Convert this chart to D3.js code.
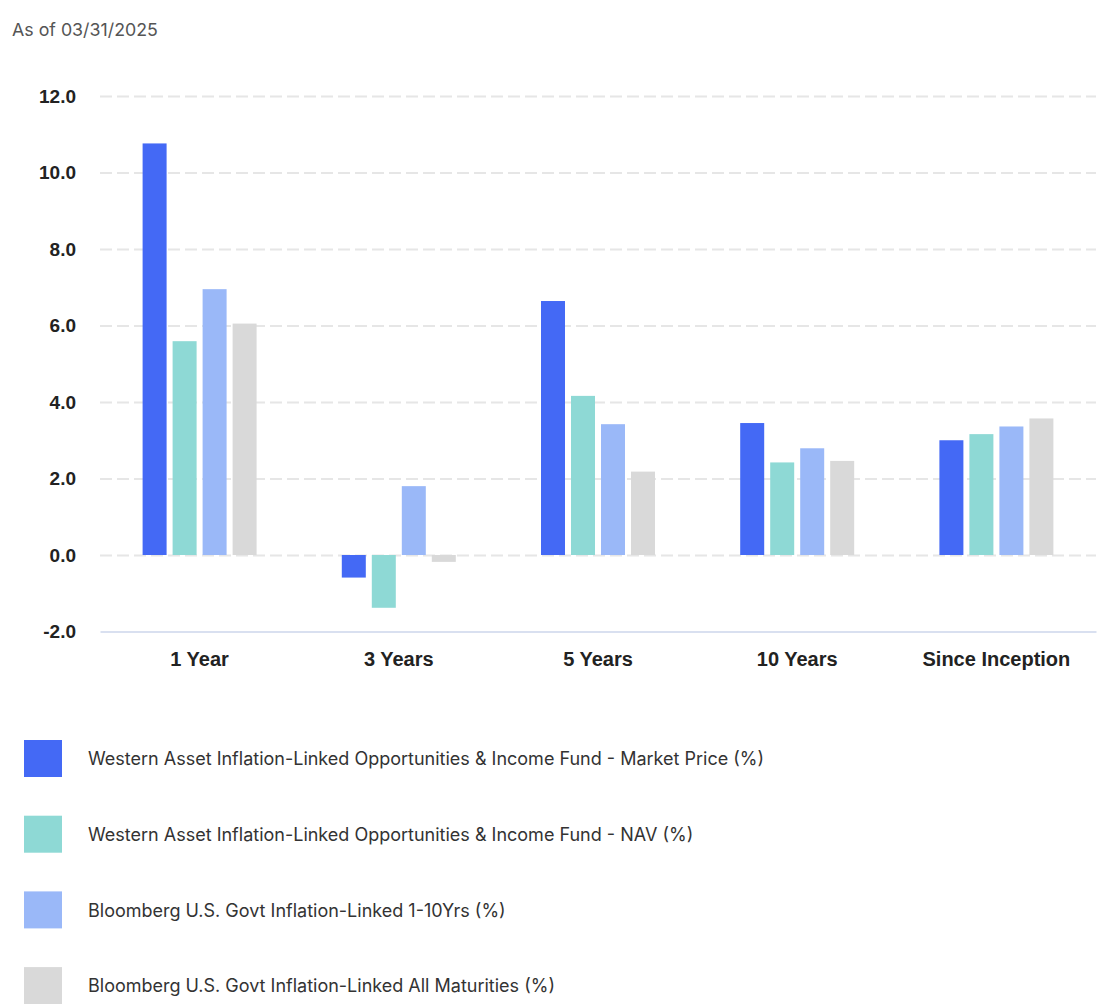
<!DOCTYPE html>
<html>
<head>
<meta charset="utf-8">
<script src="https://cdn.jsdelivr.net/npm/d3@7"></script>
<style>
  html, body { margin: 0; padding: 0; background: #fff; }
  svg { display: block; font-family: Inter, "Noto Sans", sans-serif; }
</style>
</head>
<body>
<svg id="chart" width="1106" height="1004"></svg>
<script>
const categories = ["1 Year", "3 Years", "5 Years", "10 Years", "Since Inception"];
const seriesNames = [
  "Western Asset Inflation-Linked Opportunities & Income Fund - Market Price (%)",
  "Western Asset Inflation-Linked Opportunities & Income Fund - NAV (%)",
  "Bloomberg U.S. Govt Inflation-Linked 1-10Yrs (%)",
  "Bloomberg U.S. Govt Inflation-Linked All Maturities (%)"
];
const marketPrice = [10.76, -0.59, 6.64, 3.45, 3.00];
const nav = [5.59, -1.38, 4.16, 2.42, 3.16];
const idx1to10 = [6.95, 1.80, 3.42, 2.79, 3.36];
const idxAll = [6.05, -0.18, 2.18, 2.46, 3.57];
const seriesValues = [marketPrice, nav, idx1to10, idxAll];
const colors = ["#4469f5", "#8ed9d5", "#9ab8f8", "#d9d9d9"];
const yTicks = [-2, 0, 2, 4, 6, 8, 10, 12];
const asOf = "As of 03/31/2025";

(function () {
const svg = d3.select("#chart");
const plotLeft = 100, plotRight = 1096, plotTop = 96, plotBottom = 631.5;

svg.append("text").attr("x", 12).attr("y", 36)
  .attr("font-size", 17.8).attr("fill", "#555").text(asOf);

const x = d3.scaleBand().domain(categories).range([plotLeft, plotRight]).paddingInner(0).paddingOuter(0);
const y = d3.scaleLinear().domain([-2, 12]).range([plotBottom, plotTop]);
const groupW = 114;
const xs = d3.scaleBand().domain(d3.range(seriesNames.length)).range([0, groupW]).paddingInner(0.2).paddingOuter(0);

// gridlines + y labels
const fmt = v => d3.format(".1f")(v).replace("\u2212", "-");
const yAxis = d3.axisLeft(y).tickValues(yTicks).tickFormat(fmt).tickSize(0).tickPadding(24);
const gY = svg.append("g").attr("transform", `translate(${plotLeft},0)`).call(yAxis);
gY.select(".domain").remove();
gY.selectAll(".tick text").attr("font-size", 19).attr("font-weight", 700).attr("fill", "#222");
gY.selectAll(".tick").filter(d => d !== -2).append("line")
  .attr("x1", 0).attr("x2", plotRight - plotLeft)
  .attr("stroke", "#e6e6e6").attr("stroke-width", 2).attr("stroke-dasharray", "12,5");

// bars
const groups = svg.append("g").selectAll("g").data(categories).join("g")
  .attr("transform", c => `translate(${x(c) + x.bandwidth() / 2 - groupW / 2},0)`);
groups.selectAll("rect").data((c, ci) => seriesValues.map((vals, si) => ({ si, v: vals[ci] })))
  .join("rect")
  .attr("x", d => xs(d.si))
  .attr("width", xs.bandwidth())
  .attr("y", d => y(Math.max(0, d.v)))
  .attr("height", d => Math.abs(y(d.v) - y(0)))
  .attr("fill", d => colors[d.si]);

// x axis
const xAxis = d3.axisBottom(x).tickSize(0).tickPadding(20);
const gX = svg.append("g").attr("transform", `translate(0,${plotBottom})`).call(xAxis);
gX.select(".domain").attr("stroke", "#ccd6eb").attr("stroke-width", 1.5);
gX.selectAll(".tick text").attr("font-size", 20).attr("font-weight", 700).attr("fill", "#222");

// legend
const legend = svg.append("g").selectAll("g").data(seriesNames).join("g")
  .attr("transform", (d, i) => `translate(24,${740 + i * 75.7})`);
legend.append("rect").attr("width", 38).attr("height", 37).attr("fill", (d, i) => colors[i]);
legend.append("text").attr("x", 64).attr("y", 19).attr("dy", "0.35em")
  .attr("font-size", 18).attr("fill", "#333").text(d => d);
})();
</script>
</body>
</html>
